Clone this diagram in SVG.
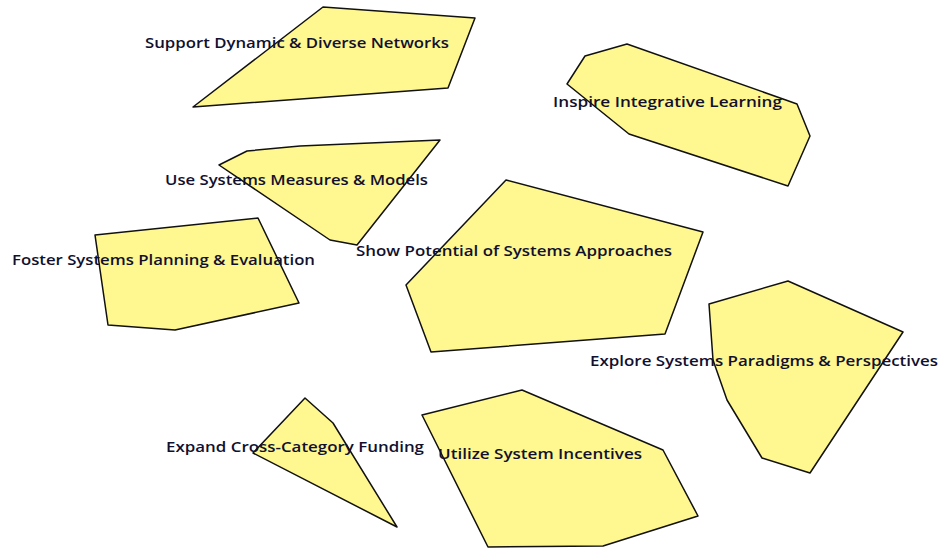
<svg xmlns="http://www.w3.org/2000/svg" width="941" height="552" viewBox="0 0 941 552">
<style>
.shape{fill:#fff78f;stroke:#111;stroke-width:1.5;stroke-linejoin:round}
.lbl{font-family:"Open Sans","DejaVu Sans","Liberation Sans",sans-serif;font-size:13.5px;font-weight:600;fill:#10102e}
</style>
<rect width="941" height="552" fill="#ffffff"/>
<g id="connectors"/>
<g id="node-support">
<polygon class="shape" points="323,7 475,18 448,88 193,107"/>
<text class="lbl" x="145" y="48" textLength="304" lengthAdjust="spacingAndGlyphs">Support Dynamic &amp; Diverse Networks</text>
</g>
<g id="node-inspire">
<polygon class="shape" points="627,44 783,99 797,104 810,136 788,186 629,134 567,84 585,56"/>
<text class="lbl" x="553" y="107" textLength="229" lengthAdjust="spacingAndGlyphs">Inspire Integrative Learning</text>
</g>
<g id="node-use">
<polygon class="shape" points="219,165 247,151 300,146 440,140 357,245 330,240"/>
<text class="lbl" x="165" y="185" textLength="263" lengthAdjust="spacingAndGlyphs">Use Systems Measures &amp; Models</text>
</g>
<g id="node-foster">
<polygon class="shape" points="95,235 258,218 299,303 175,330 108,325"/>
<text class="lbl" x="12" y="265" textLength="303" lengthAdjust="spacingAndGlyphs">Foster Systems Planning &amp; Evaluation</text>
</g>
<g id="node-show">
<polygon class="shape" points="506,180 703,232 665,334 431,352 406,285"/>
<text class="lbl" x="356" y="256" textLength="316" lengthAdjust="spacingAndGlyphs">Show Potential of Systems Approaches</text>
</g>
<g id="node-explore">
<polygon class="shape" points="709,304 788,281 903,332 810,473 762,458 727,400 713,360"/>
<text class="lbl" x="590" y="366" textLength="348" lengthAdjust="spacingAndGlyphs">Explore Systems Paradigms &amp; Perspectives</text>
</g>
<g id="node-expand">
<polygon class="shape" points="305,398 333,423 397,527 253,453"/>
<text class="lbl" x="166" y="452" textLength="258" lengthAdjust="spacingAndGlyphs">Expand Cross-Category Funding</text>
</g>
<g id="node-utilize">
<polygon class="shape" points="422,415 522,390 663,450 698,516 603,546 488,547"/>
<text class="lbl" x="438" y="459" textLength="204" lengthAdjust="spacingAndGlyphs">Utilize System Incentives</text>
</g>
</svg>
